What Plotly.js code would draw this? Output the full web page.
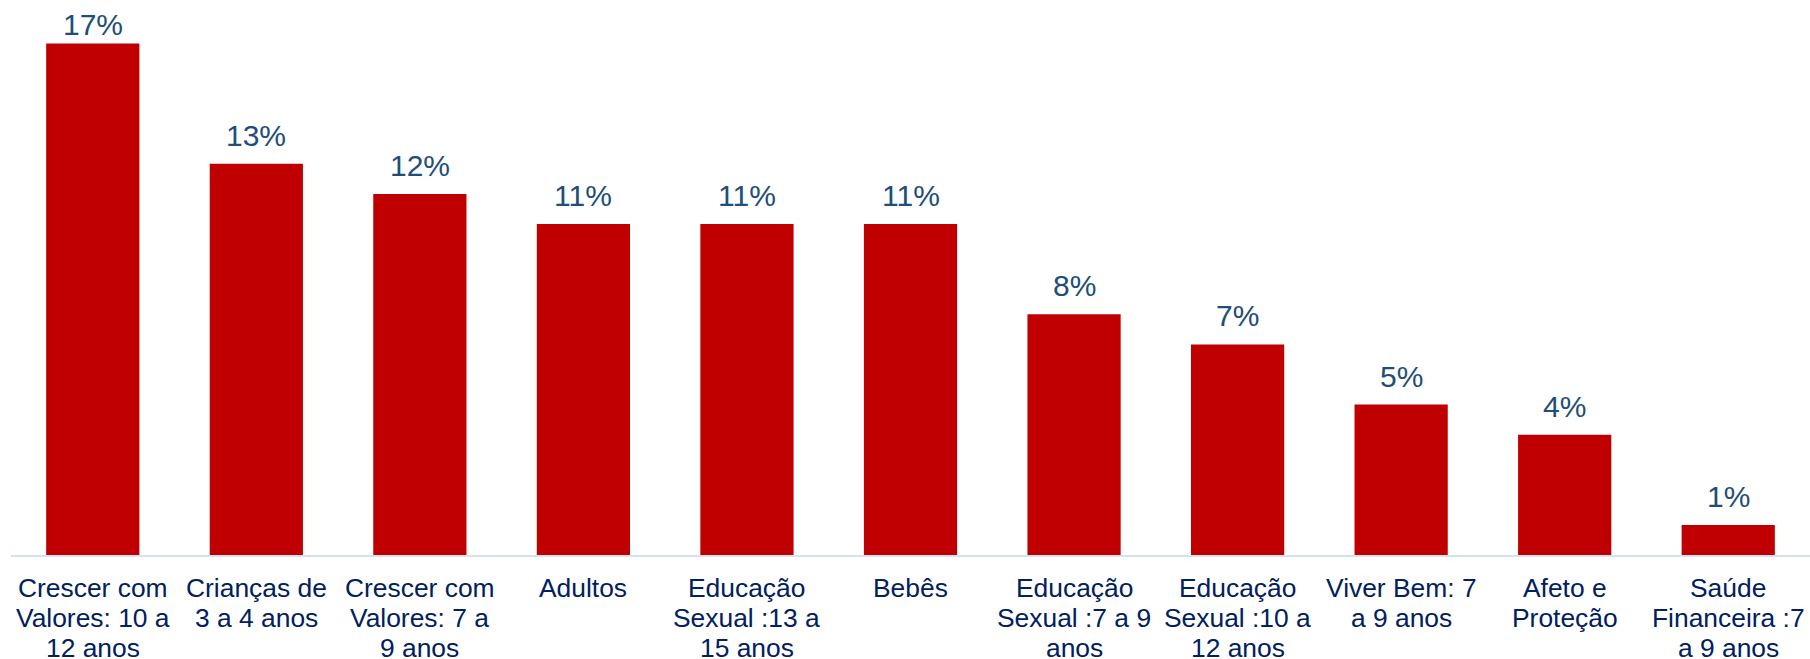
<!DOCTYPE html>
<html>
<head>
<meta charset="utf-8">
<script src="https://cdn.plot.ly/plotly-3.0.1.min.js"></script>
<style>html,body{margin:0;padding:0;background:#fff;}#chart{width:1810px;height:659px;}</style>
</head>
<body>
<div id="chart"></div>
<script>
// Data
const categories = [
  "Crescer com Valores: 10 a 12 anos",
  "Crianças de 3 a 4 anos",
  "Crescer com Valores: 7 a 9 anos",
  "Adultos",
  "Educação Sexual :13 a 15 anos",
  "Bebês",
  "Educação Sexual :7 a 9 anos",
  "Educação Sexual :10 a 12 anos",
  "Viver Bem: 7 a 9 anos",
  "Afeto e Proteção",
  "Saúde Financeira :7 a 9 anos"
];
// wrapped tick label lines (as shown in the chart)
const tickLines = [
  ["Crescer com", "Valores: 10 a", "12 anos"],
  ["Crianças de", "3 a 4 anos"],
  ["Crescer com", "Valores: 7 a", "9 anos"],
  ["Adultos"],
  ["Educação", "Sexual :13 a", "15 anos"],
  ["Bebês"],
  ["Educação", "Sexual :7 a 9", "anos"],
  ["Educação", "Sexual :10 a", "12 anos"],
  ["Viver Bem: 7", "a 9 anos"],
  ["Afeto e", "Proteção"],
  ["Saúde", "Financeira :7", "a 9 anos"]
];
const values = [17, 13, 12, 11, 11, 11, 8, 7, 5, 4, 1];
const valueLabels = values.map(v => v + "%");

// Layout constants
const W = 1810, H = 659;
const margin = {l: 11, r: 0, t: 0, b: 104};
const plotH = H - margin.t - margin.b;
const yMax = 18.446;
const fontFam = "Liberation Sans, Arial, sans-serif";
const valFont = 30, catFont = 26.4, catLineGap = 30.2;

const annotations = [];
// value labels above bars, kept inside the chart at the top
values.forEach((v, i) => {
  const barTopPx = plotH * (1 - v / yMax);
  const shift = Math.min(10, barTopPx - 42.5);
  annotations.push({
    x: categories[i], y: v, xref: "x", yref: "y",
    text: valueLabels[i], showarrow: false,
    yanchor: "bottom", xanchor: "center", yshift: shift,
    font: {family: fontFam, size: valFont, color: "#1F4E79"}
  });
});
// category labels with tight line spacing
tickLines.forEach((lines, i) => {
  lines.forEach((line, j) => {
    annotations.push({
      x: categories[i], y: 0, xref: "x", yref: "y",
      text: line, showarrow: false,
      yanchor: "top", xanchor: "center",
      yshift: -(15.6 + j * catLineGap),
      font: {family: fontFam, size: catFont, color: "#002060"}
    });
  });
});

const trace = {
  type: "bar",
  x: categories,
  y: values,
  cliponaxis: false,
  marker: {color: "#C00000", line: {width: 0}},
  hoverinfo: "none"
};

const layout = {
  width: W,
  height: H,
  margin: margin,
  paper_bgcolor: "#ffffff",
  plot_bgcolor: "#ffffff",
  bargap: 0.43,
  showlegend: false,
  annotations: annotations,
  xaxis: {
    type: "category",
    showline: true,
    linecolor: "#D6E2F3",
    linewidth: 2,
    showgrid: false,
    zeroline: false,
    showticklabels: false,
    ticks: "",
    automargin: false
  },
  yaxis: {
    range: [0, yMax],
    visible: false,
    showgrid: false,
    zeroline: false,
    fixedrange: true
  }
};

Plotly.newPlot("chart", [trace], layout, {displayModeBar: false, staticPlot: true});
</script>
</body>
</html>
